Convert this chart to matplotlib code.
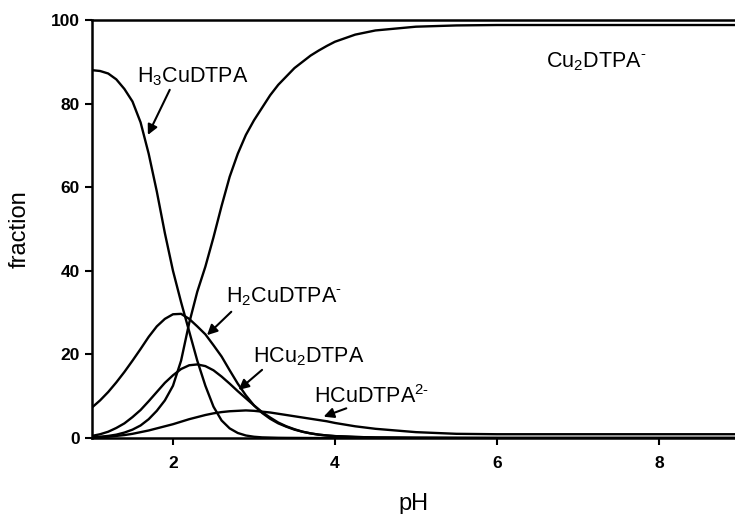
import numpy as np
import matplotlib
matplotlib.use("Agg")
import matplotlib.pyplot as plt

plt.rcParams['font.family'] = ['Liberation Sans', 'DejaVu Sans']
plt.rcParams['mathtext.fontset'] = 'custom'
plt.rcParams['mathtext.rm'] = 'Liberation Sans'
plt.rcParams['mathtext.it'] = 'Liberation Sans:italic'
plt.rcParams['mathtext.bf'] = 'Liberation Sans:bold'

# pH grid
ph = [1.0, 1.1, 1.2, 1.3, 1.4, 1.5, 1.6, 1.7, 1.8, 1.9,
      2.0, 2.1, 2.2, 2.3, 2.4, 2.5, 2.6, 2.7, 2.8, 2.9,
      3.0, 3.1, 3.2, 3.3, 3.4, 3.5, 3.6, 3.7, 3.8, 3.9,
      4.0, 4.25, 4.5, 5.0, 5.5, 6.0, 7.0, 8.0, 9.0]

h3cudtpa = [88, 87.8, 87.2, 85.8, 83.5, 80.5, 75.5, 68, 59, 49,
            40, 32.5, 25.5, 18.5, 12.5, 7.5, 4.2, 2.3, 1.2, 0.6,
            0.3, 0.15, 0.1, 0.05, 0.03, 0.02, 0.01, 0, 0, 0,
            0, 0, 0, 0, 0, 0, 0, 0, 0]

h2cudtpa = [7.3, 9, 11, 13.3, 15.8, 18.5, 21.3, 24.2, 26.7, 28.5,
            29.6, 29.7, 28.5, 26.7, 24.8, 22.2, 19.5, 16.2, 13, 10.2,
            7.8, 6, 4.6, 3.5, 2.7, 2.0, 1.5, 1.1, 0.8, 0.6,
            0.45, 0.25, 0.12, 0.05, 0.02, 0, 0, 0, 0]

hcu2dtpa = [0.5, 0.9, 1.5, 2.4, 3.5, 5, 6.7, 8.8, 11, 13.2,
            15, 16.5, 17.4, 17.6, 17.2, 16.2, 14.7, 13, 11.2, 9.5,
            7.8, 6.2, 4.9, 3.7, 2.8, 2.1, 1.5, 1.1, 0.8, 0.6,
            0.45, 0.25, 0.12, 0.05, 0.02, 0, 0, 0, 0]

hcudtpa = [0.1, 0.2, 0.3, 0.5, 0.7, 1.0, 1.4, 1.8, 2.3, 2.8,
           3.3, 3.9, 4.5, 5.0, 5.5, 5.9, 6.2, 6.4, 6.5, 6.6,
           6.5, 6.3, 6.1, 5.8, 5.5, 5.2, 4.9, 4.6, 4.3, 4.0,
           3.6, 2.8, 2.2, 1.4, 1.0, 0.9, 0.9, 0.9, 0.9]

cu2dtpa = [0.2, 0.3, 0.5, 0.8, 1.3, 2.0, 3.0, 4.5, 6.5, 9.0,
           12.5, 18.5, 27.5, 35, 41, 48, 55.5, 62.5, 68, 72.5,
           76, 79, 82, 84.5, 86.5, 88.5, 90, 91.5, 92.7, 93.8,
           94.8, 96.5, 97.5, 98.4, 98.7, 98.8, 98.8, 98.8, 98.8]

fig = plt.figure(figsize=(7.35, 5.14), dpi=100)
ax = fig.add_axes([92 / 735, 76 / 514, 643 / 735, 418 / 514])

for series in [h3cudtpa, h2cudtpa, hcu2dtpa, hcudtpa, cu2dtpa]:
    ax.plot(ph, series, color='black', lw=1.7)

ax.set_xlim(1, 8.94)
ax.set_ylim(0, 100)
ax.set_xticks([2, 4, 6, 8])
ax.set_yticks([0, 20, 40, 60, 80, 100])
ax.tick_params(direction='out', length=5, width=1.5, labelsize=12.5, pad=8)
ax.tick_params(axis='y', pad=4)
for lab in ax.get_xticklabels() + ax.get_yticklabels():
    lab.set_fontweight('bold')
for s in ['left', 'bottom', 'top']:
    ax.spines[s].set_linewidth(1.8)
ax.spines['right'].set_visible(False)

ax.set_xlabel('pH', fontsize=17, labelpad=16)
ax.set_ylabel('fraction', fontsize=17, labelpad=14)

arrow = dict(arrowstyle='-|>', color='black', lw=1.5, mutation_scale=15,
             shrinkA=0, shrinkB=0)
labels = [
    ('H$_3$CuDTPA', (2.25, 86.4), (1.96, 83.3), (1.69, 72.5)),
    ('H$_2$CuDTPA$^{\\text{-}}$', (3.37, 33.7), (2.72, 30.2), (2.42, 24.6)),
    ('HCu$_2$DTPA', (3.68, 19.4), (3.10, 16.3), (2.81, 11.5)),
    ('HCuDTPA$^{2\\text{-}}$', (4.45, 9.9), (4.14, 7.1), (3.86, 5.1)),
]
for txt, pos, start, tip in labels:
    ax.text(pos[0], pos[1], txt, fontsize=15.5, ha='center', va='center')
    ax.annotate('', xy=tip, xytext=start, arrowprops=arrow)
ax.text(7.23, 90, 'Cu$_2$DTPA$^{\\text{-}}$', fontsize=15.5, ha='center', va='center')

fig.savefig('out.png', dpi=100)
